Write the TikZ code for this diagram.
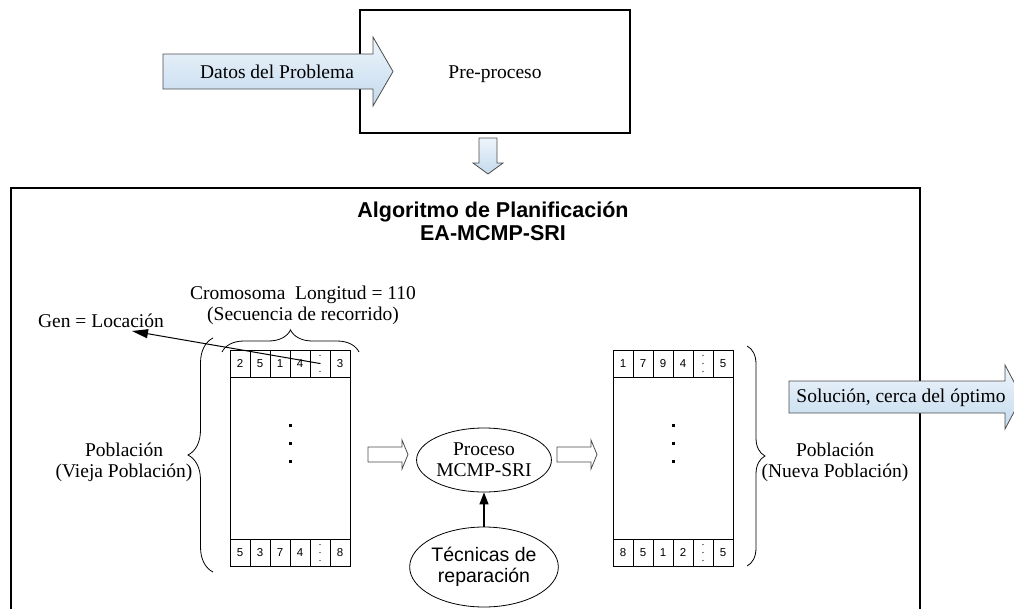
\documentclass[tikz,border=0pt]{standalone}
\usepackage{fontspec}
\setmainfont{Liberation Serif}
\setsansfont{Liberation Sans}
\usetikzlibrary{positioning, shapes.geometric, arrows.meta, decorations.pathreplacing}

\definecolor{azulclaro}{HTML}{EEF5FB}
\definecolor{azulflecha}{HTML}{C4DAEE}

\begin{document}
\begin{tikzpicture}[x=1pt, y=-1pt,
    caja/.style = {draw, line width=1.5pt, inner sep=0pt},
    texto/.style = {font=\fontsize{19.5}{21}\selectfont, inner sep=0pt, align=center},
    celda/.style = {draw, line width=0.8pt, minimum width=20pt, minimum height=27pt, inner sep=0pt, font=\sffamily\fontsize{11.5}{11.5}\selectfont},
    cromo/.style = {draw, line width=0.8pt, minimum width=120pt, minimum height=216pt, inner sep=0pt},
    flecha/.style = {draw=black!70, line width=0.8pt, top color=azulclaro, bottom color=azulflecha},
    hueca/.style = {draw=black!70, line width=0.8pt, fill=white},
    llave/.style = {decorate, decoration={brace, amplitude=#1}, line width=0.8pt},
    elipse/.style = {draw, ellipse, line width=0.8pt, inner sep=0pt}]
        \useasboundingbox (0,0) rectangle (1014,608);

        \node[caja, minimum width=270pt, minimum height=123pt] (pre) at (495,71.5) {};
        \node[texto, anchor=base] (pretexto) at (495,78) {Pre-proceso};
        \path[flecha] (163,54) -- (373,54) -- (373,37) -- (393,71.5) -- (373,106) -- (373,89) -- (163,89) -- cycle;
        \node[texto, anchor=base] (datos) at (277,78) {Datos del Problema};
        \path[flecha] (479,138) -- (497,138) -- (497,163) -- (503,163) -- (488,174) -- (473,163) -- (479,163) -- cycle;

        \node[caja, minimum width=909pt, minimum height=452pt] (algoritmo) at (465.5,414) {};
        \node[font=\sffamily\bfseries\fontsize{21.5}{23}\selectfont, inner sep=0pt, align=center, anchor=base] (titulo) at (493,240) {Algoritmo de Planificación\\EA-MCMP-SRI};

        \node[cromo] (viejo) at (290,458) {};
        \node[cromo] (nuevo) at (673,458) {};
        \foreach \v [count=\i] in {2,5,1,4,,3}
            \node[celda] (va\i) at (220+20*\i,363.5) {\v};
        \foreach \v [count=\i] in {5,3,7,4,,8}
            \node[celda] (vb\i) at (220+20*\i,552.5) {\v};
        \foreach \v [count=\i] in {1,7,9,4,,5}
            \node[celda] (na\i) at (603+20*\i,363.5) {\v};
        \foreach \v [count=\i] in {8,5,1,2,,5}
            \node[celda] (nb\i) at (603+20*\i,552.5) {\v};
        \foreach \c in {va5,vb5,na5,nb5}
            \foreach \d in {-8,0,8}
                \fill (\c.center) ++(0,\d) circle (0.7pt);
        \foreach \y in {424,442,460} {
            \fill (288.5,\y) rectangle ++(3,3);
            \fill (671.5,\y) rectangle ++(3,3);
        }

        \draw[llave=22pt] (222,352) -- (359,352);
        \draw[llave=25pt] (213,572) -- (213,338);
        \draw[llave=18pt] (747,346) -- (747,566);
        \node[texto, anchor=base] (cromosoma) at (303,320) {Cromosoma\ \ Longitud = 110\\(Secuencia de recorrido)};
        \node[texto, anchor=base] (gen) at (101,327) {Gen = Locación};
        \node[texto, anchor=base] (vieja) at (124,477) {Población\\(Vieja Población)};
        \node[texto, anchor=base] (nueva) at (835,477) {Población\\(Nueva Población)};

        \coordinate (genpunta) at (132,331);
        \draw[line width=1pt, -{Triangle[length=16pt, width=9pt]}] (va5.center) -- (genpunta);

        \node[elipse, texto, minimum width=115pt, minimum height=64pt] (proceso) at (484,460) {Proceso\\MCMP-SRI};
        \node[elipse, texto, font=\sffamily\fontsize{19.5}{21}\selectfont, minimum width=146pt, minimum height=80pt] (tecnicas) at (484,567) {Técnicas de\\reparación};
        \draw[line width=1.2pt, -{Triangle[length=12pt, width=9pt]}] (tecnicas) -- (proceso);

        \path[hueca] (368,447) -- (402,447) -- (402,440) -- (408,454.5) -- (402,469) -- (402,462) -- (368,462) -- cycle;
        \path[hueca] (557,447) -- (591,447) -- (591,440) -- (597,454.5) -- (591,469) -- (591,462) -- (557,462) -- cycle;

        \path[flecha] (789,381) -- (1005,381) -- (1005,365) -- (1022,397) -- (1005,429) -- (1005,413) -- (789,413) -- cycle;
        \node[texto, anchor=base] (solucion) at (901,402) {Solución, cerca del óptimo};
\end{tikzpicture}
\end{document}
